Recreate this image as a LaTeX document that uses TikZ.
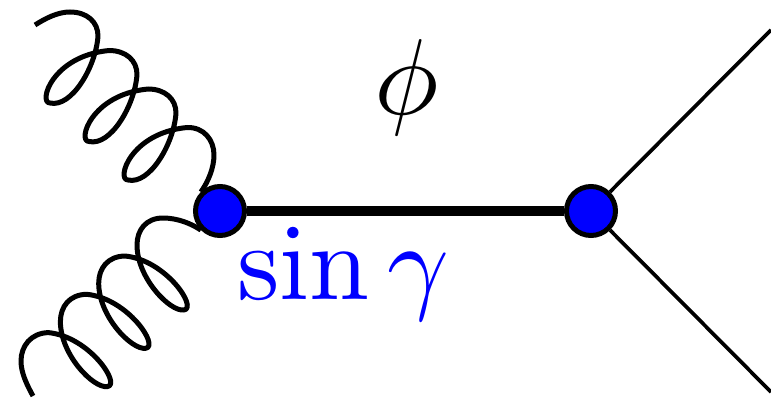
\documentclass[tikz,border=0pt]{standalone}
\usepackage{amsmath}
\usepackage{xcolor}
\usepackage{tikz}
\usetikzlibrary{positioning}
\definecolor{vtxblue}{HTML}{0000FF}
\tikzset{
  vtx/.style={circle,draw=black,line width=5pt,fill=vtxblue,minimum size=49pt,inner sep=0pt},
  gluon/.style={line width=5pt,line join=round},
  fermion/.style={line width=3.7pt},
  biglabel/.style={inner sep=0pt,scale=10.8,transform shape}
}

\begin{document}
\begin{tikzpicture}[x=1pt,y=-1pt]
\useasboundingbox (0,0) rectangle (771,398);
\node[vtx] (v1) at (220,211) {};
\node[vtx] (v2) at (591,211) {};
\coordinate (gtop) at (35,25);
\coordinate (gbot) at (33,396);
\coordinate (ftop) at (771,30);
\coordinate (fbot) at (771,392);
% gluons
\draw[gluon] (gtop) .. controls (46,18) and (58,12) .. (70,12)
  \foreach \dx/\dy in {0/0,39/38.5,78/77} {
    .. controls (87+\dx,12+\dy) and (98+\dx,22+\dy) .. (98+\dx,36+\dy)
    .. controls (96+\dx,66+\dy) and (72+\dx,108+\dy) .. (50+\dx,103+\dy)
    .. controls (38+\dx,103+\dy) and (52+\dx,56+\dy) .. (109+\dx,50.5+\dy)
  }
  .. controls (204,127) and (214,140) .. (214,155)
  .. controls (214,168) and (208,182) .. (v1.135);
\draw[gluon] (v1.225) .. controls (192,224) and (178,218) .. (163,218)
  \foreach \dx/\dy in {0/0,38.3/38.3,76.6/76.6} {
    .. controls (146-\dx,218+\dy) and (137-\dx,230+\dy) .. (137-\dx,245+\dy)
    .. controls (137-\dx,278+\dy) and (170-\dx,312+\dy) .. (184-\dx,310+\dy)
    .. controls (198-\dx,308+\dy) and (166-\dx,260+\dy) .. (125-\dx,256+\dy)
  }
  .. controls (31,333) and (21,346) .. (21,361)
  .. controls (21,373) and (27,385) .. (gbot);
% lines
\draw[fermion] (v2) -- (ftop);
\draw[fermion] (v2) -- (fbot);
\draw[line width=10.5pt] (v1.east) -- (v2.west);
% labels
\node[biglabel] (phi) at (407,88) {$\phi$};
\node[biglabel,text=vtxblue] (coupling) at (343.5,274) {$\sin\gamma$};
\end{tikzpicture}
\end{document}
